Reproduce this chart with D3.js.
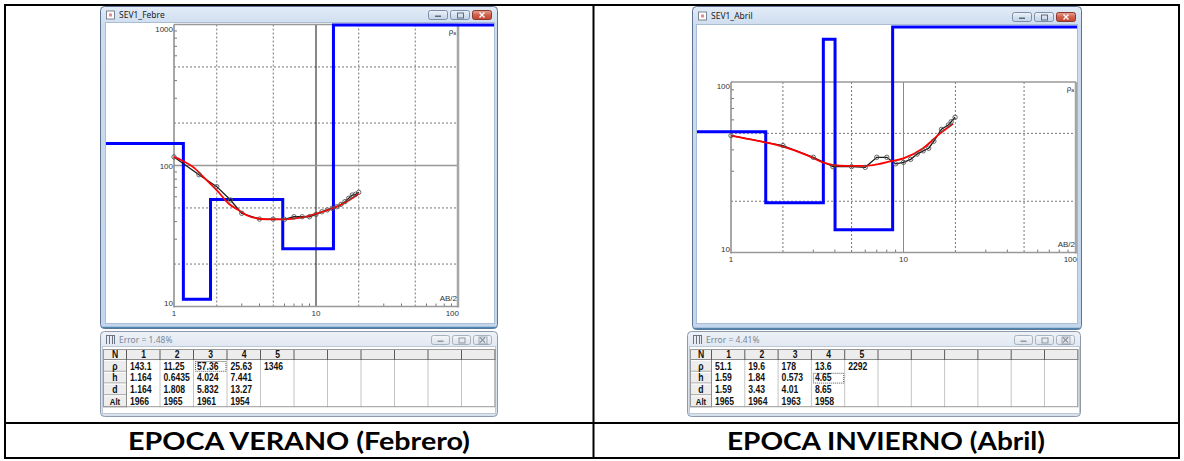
<!DOCTYPE html>
<html>
<head>
<meta charset="utf-8">
<script src="https://cdn.jsdelivr.net/npm/d3@7"></script>
<style>
  body { margin: 0; background: #fff; }
  svg { display: block; }
</style>
</head>
<body>
<div id="chart"></div>
<script>
// ---- data: SEV1 Febrero (verano) ----
const febTitle = 'SEV1_Febre';
const febError = 'Error = 1.48%';
const febCaption = 'EPOCA VERANO (Febrero)';
const febObsAB2 = [1, 1.5, 2, 2.5, 3, 4, 5, 6, 7, 8, 9, 10, 11, 12, 13, 14, 15, 16, 17, 18, 19, 20];
const febObsRho = [115, 86, 70.8, 56.9, 45.8, 41.7, 41.7, 41.5, 43.3, 43.3, 43.3, 45, 47, 48.4, 49.7, 51, 53, 55.4, 58.5, 61.7, 62.5, 64.6];
const febFitAB2 = [1, 1.13, 1.4, 1.65, 2.05, 2.41, 2.84, 3.52, 4.6, 5.8, 8, 9.8, 12.2, 15.2, 18, 20];
const febFitRho = [115, 109, 95.5, 81, 65, 54, 48.3, 43, 41.5, 41.5, 42.8, 45.3, 48.4, 53, 58.5, 63];
const febLayerRho = [143.1, 11.25, 57.36, 25.63, 1346];
const febLayerH = [1.164, 0.6435, 4.024, 7.441];
const febLayerD = [1.164, 1.808, 5.832, 13.27];
const febLayerAlt = [1966, 1965, 1961, 1954];

// ---- data: SEV1 Abril (invierno) ----
const abrTitle = 'SEV1_Abril';
const abrError = 'Error = 4.41%';
const abrCaption = 'EPOCA INVIERNO (Abril)';
const abrObsAB2 = [1, 2, 3, 3.9, 5, 6, 7, 8, 9, 10, 11, 12, 13, 14, 15, 16.6, 18.2, 18.9, 19.9];
const abrObsRho = [48.5, 42.4, 36.2, 31.9, 31.9, 31.6, 36.2, 36.2, 33.1, 33.8, 35.2, 37.8, 39.5, 40.9, 45, 52.8, 56, 58.5, 62.1];
const abrFitAB2 = [1, 1.41, 2, 2.75, 3.43, 4.28, 5.35, 6.7, 8.34, 10, 13, 16.3, 19.4];
const abrFitRho = [48.5, 45.3, 41.8, 37.3, 33.7, 32.3, 32.2, 32.6, 34.2, 35.7, 40.9, 50, 57];
const abrLayerRho = [51.1, 19.6, 178, 13.6, 2292];
const abrLayerH = [1.59, 1.84, 0.573, 4.65];
const abrLayerD = [1.59, 3.43, 4.01, 8.65];
const abrLayerAlt = [1965, 1964, 1963, 1958];

const gridX = [2, 5, 20, 50];
const gridY = [20, 50, 200, 500];
const minorTicks = [3, 4, 6, 7, 8, 9, 30, 40, 60, 70, 80, 90, 300, 400, 600, 700, 800, 900];

const W = 1184, H = 461;
const smallFont = '"Liberation Sans Narrow", "Liberation Sans", Arial, sans-serif';
const titleFont = '"Noto Sans", "Open Sans", sans-serif';

const svg = d3.select('#chart').append('svg').attr('width', W).attr('height', H);
svg.append('rect').attr('width', W).attr('height', H).attr('fill', '#fff');

const defs = svg.append('defs');
function vGrad(id, stops) {
  const lg = defs.append('linearGradient').attr('id', id).attr('x1', 0).attr('y1', 0).attr('x2', 0).attr('y2', 1);
  stops.forEach(s => lg.append('stop').attr('offset', s[0]).attr('stop-color', s[1]));
}
vGrad('frameActive', [[0, '#e3ecf7'], [0.06, '#cddcee'], [1, '#c3d6ec']]);
vGrad('frameInactive', [[0, '#eef2f8'], [0.2, '#dfe7f1'], [1, '#d7e1ec']]);
vGrad('btnBlue', [[0, '#eef3fa'], [0.5, '#d6e1ef'], [1, '#c3d2e6']]);
vGrad('btnRed', [[0, '#e8a493'], [0.5, '#d0614c'], [1, '#c2452f']]);
vGrad('btnGray', [[0, '#f4f6f9'], [1, '#dde3ea']]);

// squeeze a text node horizontally (the originals use a narrow screen font)
function narrow(sel, k) {
  sel.each(function () {
    const w = this.getComputedTextLength();
    d3.select(this).attr('textLength', w * k).attr('lengthAdjust', 'spacingAndGlyphs');
  });
}

function drawWindow(g, w, active) {
  g.append('rect')
    .attr('x', w.x + 0.5).attr('y', w.y + 0.5)
    .attr('width', w.w - 1).attr('height', w.h - 1)
    .attr('rx', 4)
    .attr('fill', active ? 'url(#frameActive)' : 'url(#frameInactive)')
    .attr('stroke', active ? '#5d7391' : '#8d9aab');
  if (active) {
    // darker lower edge of the active frame
    g.append('line')
      .attr('x1', w.x + 2).attr('x2', w.x + w.w - 2)
      .attr('y1', w.y + w.h - 1.5).attr('y2', w.y + w.h - 1.5)
      .attr('stroke', '#4f86b0').attr('stroke-width', 1.5);
  }
  g.append('rect')
    .attr('x', w.cx - 0.5).attr('y', w.cy - 0.5)
    .attr('width', w.cw + 1).attr('height', w.ch + 1)
    .attr('fill', '#fff').attr('stroke', active ? '#a9bdd4' : '#bcc8d6');

  // window icon
  const ix = w.x + 6, iy = w.y + (w.cy - w.y) / 2 - 4;
  if (w.icon === 'table') {
    const ic = g.append('g').attr('stroke', '#6b7480').attr('stroke-width', 1).attr('fill', 'none');
    ic.append('line').attr('x1', ix).attr('x2', ix + 8).attr('y1', iy + 0.5).attr('y2', iy + 0.5);
    [0, 3, 6, 8].forEach(dx => ic.append('line').attr('x1', ix + dx + 0.5).attr('x2', ix + dx + 0.5).attr('y1', iy).attr('y2', iy + 9));
  } else {
    g.append('rect').attr('x', ix + 0.5).attr('y', iy + 0.5).attr('width', 8).attr('height', 8)
      .attr('fill', '#fff').attr('stroke', '#7d8590');
    g.append('rect').attr('x', ix + 3).attr('y', iy + 3).attr('width', 3).attr('height', 3).attr('fill', '#e98b8b');
  }
  g.append('text')
    .attr('x', ix + 13).attr('y', iy + 7.5)
    .attr('font-family', titleFont).attr('font-size', 8.5)
    .attr('fill', active ? '#1b1b1b' : '#7b8896')
    .text(w.title);

  // caption buttons
  const bw = w.btnW, bh = w.btnH, by = w.btnY;
  const bx = [w.x + w.w - 6 - 3 * bw - 4, w.x + w.w - 6 - 2 * bw - 2, w.x + w.w - 6 - bw];
  bx.forEach((x, i) => {
    const isClose = i === 2;
    const fill = active ? (isClose ? 'url(#btnRed)' : 'url(#btnBlue)') : 'url(#btnGray)';
    g.append('rect').attr('x', x + 0.5).attr('y', by + 0.5).attr('width', bw - 1).attr('height', bh - 1)
      .attr('rx', 2).attr('fill', fill).attr('stroke', active ? (isClose ? '#8a3a2e' : '#7d8fa8') : '#a7b2bf');
    const mx = x + bw / 2, my = by + bh / 2;
    const gl = active ? (isClose ? '#fff' : '#5b6b80') : '#8c97a4';
    if (i === 0) {
      g.append('rect').attr('x', mx - 3).attr('y', my + 0.5).attr('width', 6).attr('height', 1.5).attr('fill', gl);
    } else if (i === 1) {
      g.append('rect').attr('x', mx - 3 + 0.5).attr('y', my - 2.5 + 0.5).attr('width', 6).attr('height', 5)
        .attr('fill', 'none').attr('stroke', gl);
    } else {
      g.append('path').attr('d', `M${mx - 2.5},${my - 2.5}L${mx + 2.5},${my + 2.5}M${mx + 2.5},${my - 2.5}L${mx - 2.5},${my + 2.5}`)
        .attr('stroke', gl).attr('stroke-width', 1.4);
      if (!active) {
        g.append('rect').attr('x', mx - 4 + 0.5).attr('y', my - 3.5 + 0.5).attr('width', 8).attr('height', 7)
          .attr('fill', 'none').attr('stroke', gl).attr('stroke-width', 0.8);
      }
    }
  });
}

function drawPlot(g, p, id) {
  const x = d3.scaleLog().domain([1, 100]).range([p.x0, p.x1]);
  const y = d3.scaleLog().domain(p.yDomain).range([p.y1, p.y0]);
  const yMin = p.yDomain[0], yMax = p.yDomain[1];

  defs.append('clipPath').attr('id', 'clip-' + id)
    .append('rect').attr('x', p.win.cx).attr('y', p.win.cy).attr('width', p.win.cw).attr('height', p.win.ch);

  const grid = g.append('g');
  // dotted grid
  gridX.forEach(v => grid.append('line')
    .attr('x1', x(v)).attr('x2', x(v)).attr('y1', p.y0).attr('y2', p.y1)
    .attr('stroke', '#777').attr('stroke-dasharray', '2,2'));
  gridY.filter(v => v > yMin && v < yMax).forEach(v => grid.append('line')
    .attr('x1', p.x0).attr('x2', p.x1).attr('y1', y(v)).attr('y2', y(v))
    .attr('stroke', '#777').attr('stroke-dasharray', '2,2'));
  // solid decade lines inside the frame
  [10].forEach(v => grid.append('line')
    .attr('x1', x(v)).attr('x2', x(v)).attr('y1', p.y0).attr('y2', p.y1)
    .attr('stroke', p.tenColor).attr('stroke-width', 1));
  [100].filter(v => v > yMin && v < yMax).forEach(v => grid.append('line')
    .attr('x1', p.x0).attr('x2', p.x1).attr('y1', y(v)).attr('y2', y(v))
    .attr('stroke', '#999').attr('stroke-width', 1.5));

  // minor ticks
  minorTicks.filter(v => v > 1 && v < 100).forEach(v => grid.append('line')
    .attr('x1', x(v)).attr('x2', x(v)).attr('y1', p.y1).attr('y2', p.y1 - 3)
    .attr('stroke', '#777'));
  minorTicks.filter(v => v > yMin && v < yMax).forEach(v => grid.append('line')
    .attr('x1', p.x0).attr('x2', p.x0 + 3).attr('y1', y(v)).attr('y2', y(v))
    .attr('stroke', '#777'));

  // frame
  grid.append('line').attr('x1', p.x0).attr('x2', p.x1).attr('y1', p.y0).attr('y2', p.y0).attr('stroke', '#999').attr('stroke-width', 1.5);
  grid.append('line').attr('x1', p.x1).attr('x2', p.x1).attr('y1', p.y0).attr('y2', p.y1 + 1).attr('stroke', '#a6a6a6').attr('stroke-width', 2.5);
  grid.append('line').attr('x1', p.x0).attr('x2', p.x1).attr('y1', p.y1).attr('y2', p.y1).attr('stroke', '#999').attr('stroke-width', 1.5);
  grid.append('line').attr('x1', p.x0).attr('x2', p.x0).attr('y1', p.y0).attr('y2', p.y1 + 1).attr('stroke', '#8a8a8a').attr('stroke-width', 1.5);

  // axis labels
  const lab = g.append('g').attr('font-family', smallFont).attr('font-size', 8).attr('fill', '#333');
  y.ticks().filter(v => Math.log10(v) % 1 === 0).forEach(v => lab.append('text')
    .attr('x', p.x0 - 1).attr('text-anchor', 'end')
    .attr('y', Math.min(Math.max(y(v) + 3, p.y0 + 7), p.y1 - 0.5))
    .text(v));
  [1, 10, 100].forEach(v => lab.append('text')
    .attr('x', v === 100 ? p.x1 + 1 : x(v))
    .attr('text-anchor', v === 100 ? 'end' : 'middle')
    .attr('y', p.y1 + 9)
    .text(v));
  const rl = lab.append('text').attr('x', p.x1 - 2).attr('y', p.y0 + 9).attr('text-anchor', 'end');
  rl.append('tspan').text('ρ');
  rl.append('tspan').attr('font-size', 5).attr('dy', 1).text('a');
  lab.append('text').attr('x', p.x1 - 1).attr('y', p.y1 - 6).attr('text-anchor', 'end').text('AB/2');

  // curves
  const data = g.append('g').attr('clip-path', `url(#clip-${id})`);

  // layered model (blue step line)
  const top = p.win.cy + 2, bottom = p.win.cy + p.win.ch;
  const steps = [{ ab: x.invert(p.win.cx), r: p.layerRho[0] }];
  p.layerD.forEach((d, i) => {
    steps.push({ ab: d, r: p.layerRho[i] });
    steps.push({ ab: d, r: p.layerRho[i + 1] });
  });
  steps.push({ ab: x.invert(p.win.cx + p.win.cw), r: p.layerRho[p.layerRho.length - 1] });
  const stepLine = d3.line()
    .x(d => x(d.ab))
    .y(d => Math.max(top, Math.min(bottom, y(d.r))));
  data.append('path').attr('d', stepLine(steps))
    .attr('fill', 'none').attr('stroke', '#0000ff').attr('stroke-width', 3);

  // field curve
  const obs = p.obsAB2.map((a, i) => ({ ab: a, r: p.obsRho[i] }));
  const line = d3.line().x(d => x(d.ab)).y(d => y(d.r));
  data.append('path').attr('d', line(obs))
    .attr('fill', 'none').attr('stroke', '#1a1a1a').attr('stroke-width', 1.3);

  // fitted curve
  const fit = p.fitAB2.map((a, i) => ({ ab: a, r: p.fitRho[i] }));
  data.append('path').attr('d', line.curve(d3.curveMonotoneX)(fit))
    .attr('fill', 'none').attr('stroke', '#ff0000').attr('stroke-width', 1.8);

  data.selectAll('circle.obs').data(obs).enter().append('circle')
    .attr('class', 'obs')
    .attr('cx', d => x(d.ab)).attr('cy', d => y(d.r)).attr('r', 2.2)
    .attr('fill', 'none').attr('stroke', '#555').attr('stroke-width', 0.9);
}

function drawTable(g, t) {
  const rows = [
    { label: 'ρ', vals: t.layerRho },
    { label: 'h', vals: t.layerH },
    { label: 'd', vals: t.layerD },
    { label: 'Alt', vals: t.layerAlt }
  ];
  const colX = d3.range(t.nCols + 1).map(i => t.x + t.nW + i * t.colW);
  const right = colX[t.nCols];
  const bottom = t.y + t.headH + rows.length * t.rowH;

  g.append('rect').attr('x', t.x).attr('y', t.y).attr('width', right - t.x).attr('height', bottom - t.y).attr('fill', '#fff');
  // header row
  g.append('rect').attr('x', t.x).attr('y', t.y).attr('width', right - t.x).attr('height', t.headH).attr('fill', '#ededed');
  g.append('line').attr('x1', t.x).attr('x2', right).attr('y1', t.y + t.headH - 0.5).attr('y2', t.y + t.headH - 0.5).attr('stroke', '#8c8c8c');
  // row header buttons
  rows.forEach((r, i) => {
    const ry = t.y + t.headH + i * t.rowH;
    g.append('rect').attr('x', t.x).attr('y', ry).attr('width', t.nW).attr('height', t.rowH).attr('fill', '#ededed');
    g.append('line').attr('x1', t.x).attr('x2', t.x + t.nW).attr('y1', ry + t.rowH - 0.5).attr('y2', ry + t.rowH - 0.5).attr('stroke', '#8c8c8c');
    g.append('line').attr('x1', t.x + 0.5).attr('x2', t.x + t.nW).attr('y1', ry + 0.5).attr('y2', ry + 0.5).attr('stroke', '#fff');
  });
  colX.forEach((cx, i) => {
    g.append('line').attr('x1', cx - 0.5).attr('x2', cx - 0.5).attr('y1', t.y).attr('y2', t.y + t.headH)
      .attr('stroke', '#5c5c5c');
    g.append('line').attr('x1', cx - 0.5).attr('x2', cx - 0.5).attr('y1', t.y + t.headH).attr('y2', bottom)
      .attr('stroke', i === 0 ? '#8c8c8c' : '#c4c4c4');
  });
  g.append('rect').attr('x', t.x + 0.5).attr('y', t.y + 0.5).attr('width', right - t.x - 1).attr('height', bottom - t.y - 1)
    .attr('fill', 'none').attr('stroke', '#9a9a9a');

  // focus rectangle
  const fx = colX[t.focus[1]], fy = t.y + t.headH + t.focus[0] * t.rowH;
  g.append('rect').attr('x', fx + 1.5).attr('y', fy + 1.5).attr('width', t.colW - 3).attr('height', t.rowH - 2)
    .attr('fill', 'none').attr('stroke', '#555').attr('stroke-dasharray', '1,1');

  // cell text
  const font = g.append('g').attr('font-family', smallFont).attr('font-weight', 'bold').attr('font-size', 10.5).attr('fill', '#111');
  font.append('text').attr('class', 'val').attr('x', t.x + t.nW / 2).attr('y', t.y + t.headH - 1.8).attr('text-anchor', 'middle').text('N');
  t.layerRho.forEach((v, i) => font.append('text').attr('class', 'val')
    .attr('x', (colX[i] + colX[i + 1]) / 2).attr('y', t.y + t.headH - 1.8)
    .attr('text-anchor', 'middle').text(i + 1));
  rows.forEach((r, i) => {
    const base = t.y + t.headH + (i + 1) * t.rowH - 2.2;
    font.append('text').attr('class', 'val').attr('x', t.x + t.nW / 2).attr('y', base).attr('text-anchor', 'middle')
      .attr('font-size', r.label === 'Alt' ? 9.5 : 10.5).text(r.label);
    r.vals.forEach((v, j) => font.append('text').attr('class', 'val')
      .attr('x', colX[j] + 3).attr('y', base).text(String(v)));
  });
  narrow(font.selectAll('text.val'), 0.82);
}

const panels = [
  {
    id: 'feb',
    win: { x: 100, y: 6, w: 398, h: 323, cx: 106, cy: 23, cw: 388, ch: 300, title: febTitle, btnW: 20, btnH: 10, btnY: 10 },
    plot: { x0: 174, x1: 458, y0: 24.5, y1: 306.5, yDomain: [10, 1000], tenColor: '#111' },
    twin: { x: 100, y: 331, w: 398, h: 86, cx: 103, cy: 347, cw: 392, ch: 66, title: febError, icon: 'table', btnW: 19, btnH: 10, btnY: 335 },
    table: { x: 103, y: 349, nW: 24, colW: 33.5, nCols: 11, headH: 11, rowH: 11.8, focus: [0, 2] },
    obsAB2: febObsAB2, obsRho: febObsRho, fitAB2: febFitAB2, fitRho: febFitRho,
    layerRho: febLayerRho, layerH: febLayerH, layerD: febLayerD, layerAlt: febLayerAlt,
    caption: febCaption, capX: 299
  },
  {
    id: 'abr',
    win: { x: 692, y: 6, w: 390, h: 324, cx: 697, cy: 25, cw: 380, ch: 298, title: abrTitle, btnW: 20, btnH: 10, btnY: 12 },
    plot: { x0: 731, x1: 1076, y0: 82, y1: 252.6, yDomain: [10, 100], tenColor: '#8a8a8a' },
    twin: { x: 687, y: 331, w: 394, h: 86, cx: 690, cy: 347, cw: 389, ch: 66, title: abrError, icon: 'table', btnW: 19, btnH: 10, btnY: 335 },
    table: { x: 690, y: 349, nW: 22, colW: 33.3, nCols: 11, headH: 11, rowH: 11.8, focus: [1, 3] },
    obsAB2: abrObsAB2, obsRho: abrObsRho, fitAB2: abrFitAB2, fitRho: abrFitRho,
    layerRho: abrLayerRho, layerH: abrLayerH, layerD: abrLayerD, layerAlt: abrLayerAlt,
    caption: abrCaption, capX: 886
  }
];

panels.forEach(p => {
  const g = svg.append('g');
  drawWindow(g, p.win, true);
  drawPlot(g, Object.assign({}, p.plot, {
    win: p.win, obsAB2: p.obsAB2, obsRho: p.obsRho, fitAB2: p.fitAB2, fitRho: p.fitRho,
    layerRho: p.layerRho, layerD: p.layerD
  }), p.id);
  const tg = svg.append('g');
  drawWindow(tg, p.twin, false);
  drawTable(tg, Object.assign({}, p.table, {
    layerRho: p.layerRho, layerH: p.layerH, layerD: p.layerD, layerAlt: p.layerAlt
  }));
});

// outer document table
const border = svg.append('g').attr('stroke', '#000').attr('stroke-width', 2).attr('fill', 'none');
border.append('rect').attr('x', 5).attr('y', 5).attr('width', 1174).attr('height', 453);
border.append('line').attr('x1', 593.5).attr('x2', 593.5).attr('y1', 5).attr('y2', 458);
border.append('line').attr('x1', 5).attr('x2', 1179).attr('y1', 423).attr('y2', 423);

// captions: a tall bold face squeezed to the measured widths
const capG = svg.append('g').attr('font-family', 'Lato, "Open Sans", sans-serif').attr('font-weight', 'bold').attr('fill', '#000');
panels.forEach(p => capG.append('text').attr('x', p.capX).attr('y', 450)
  .attr('text-anchor', 'middle').attr('font-size', 25.5)
  .attr('textLength', p.id === 'feb' ? 342 : 318).attr('lengthAdjust', 'spacingAndGlyphs')
  .text(p.caption));
</script>
</body>
</html>
